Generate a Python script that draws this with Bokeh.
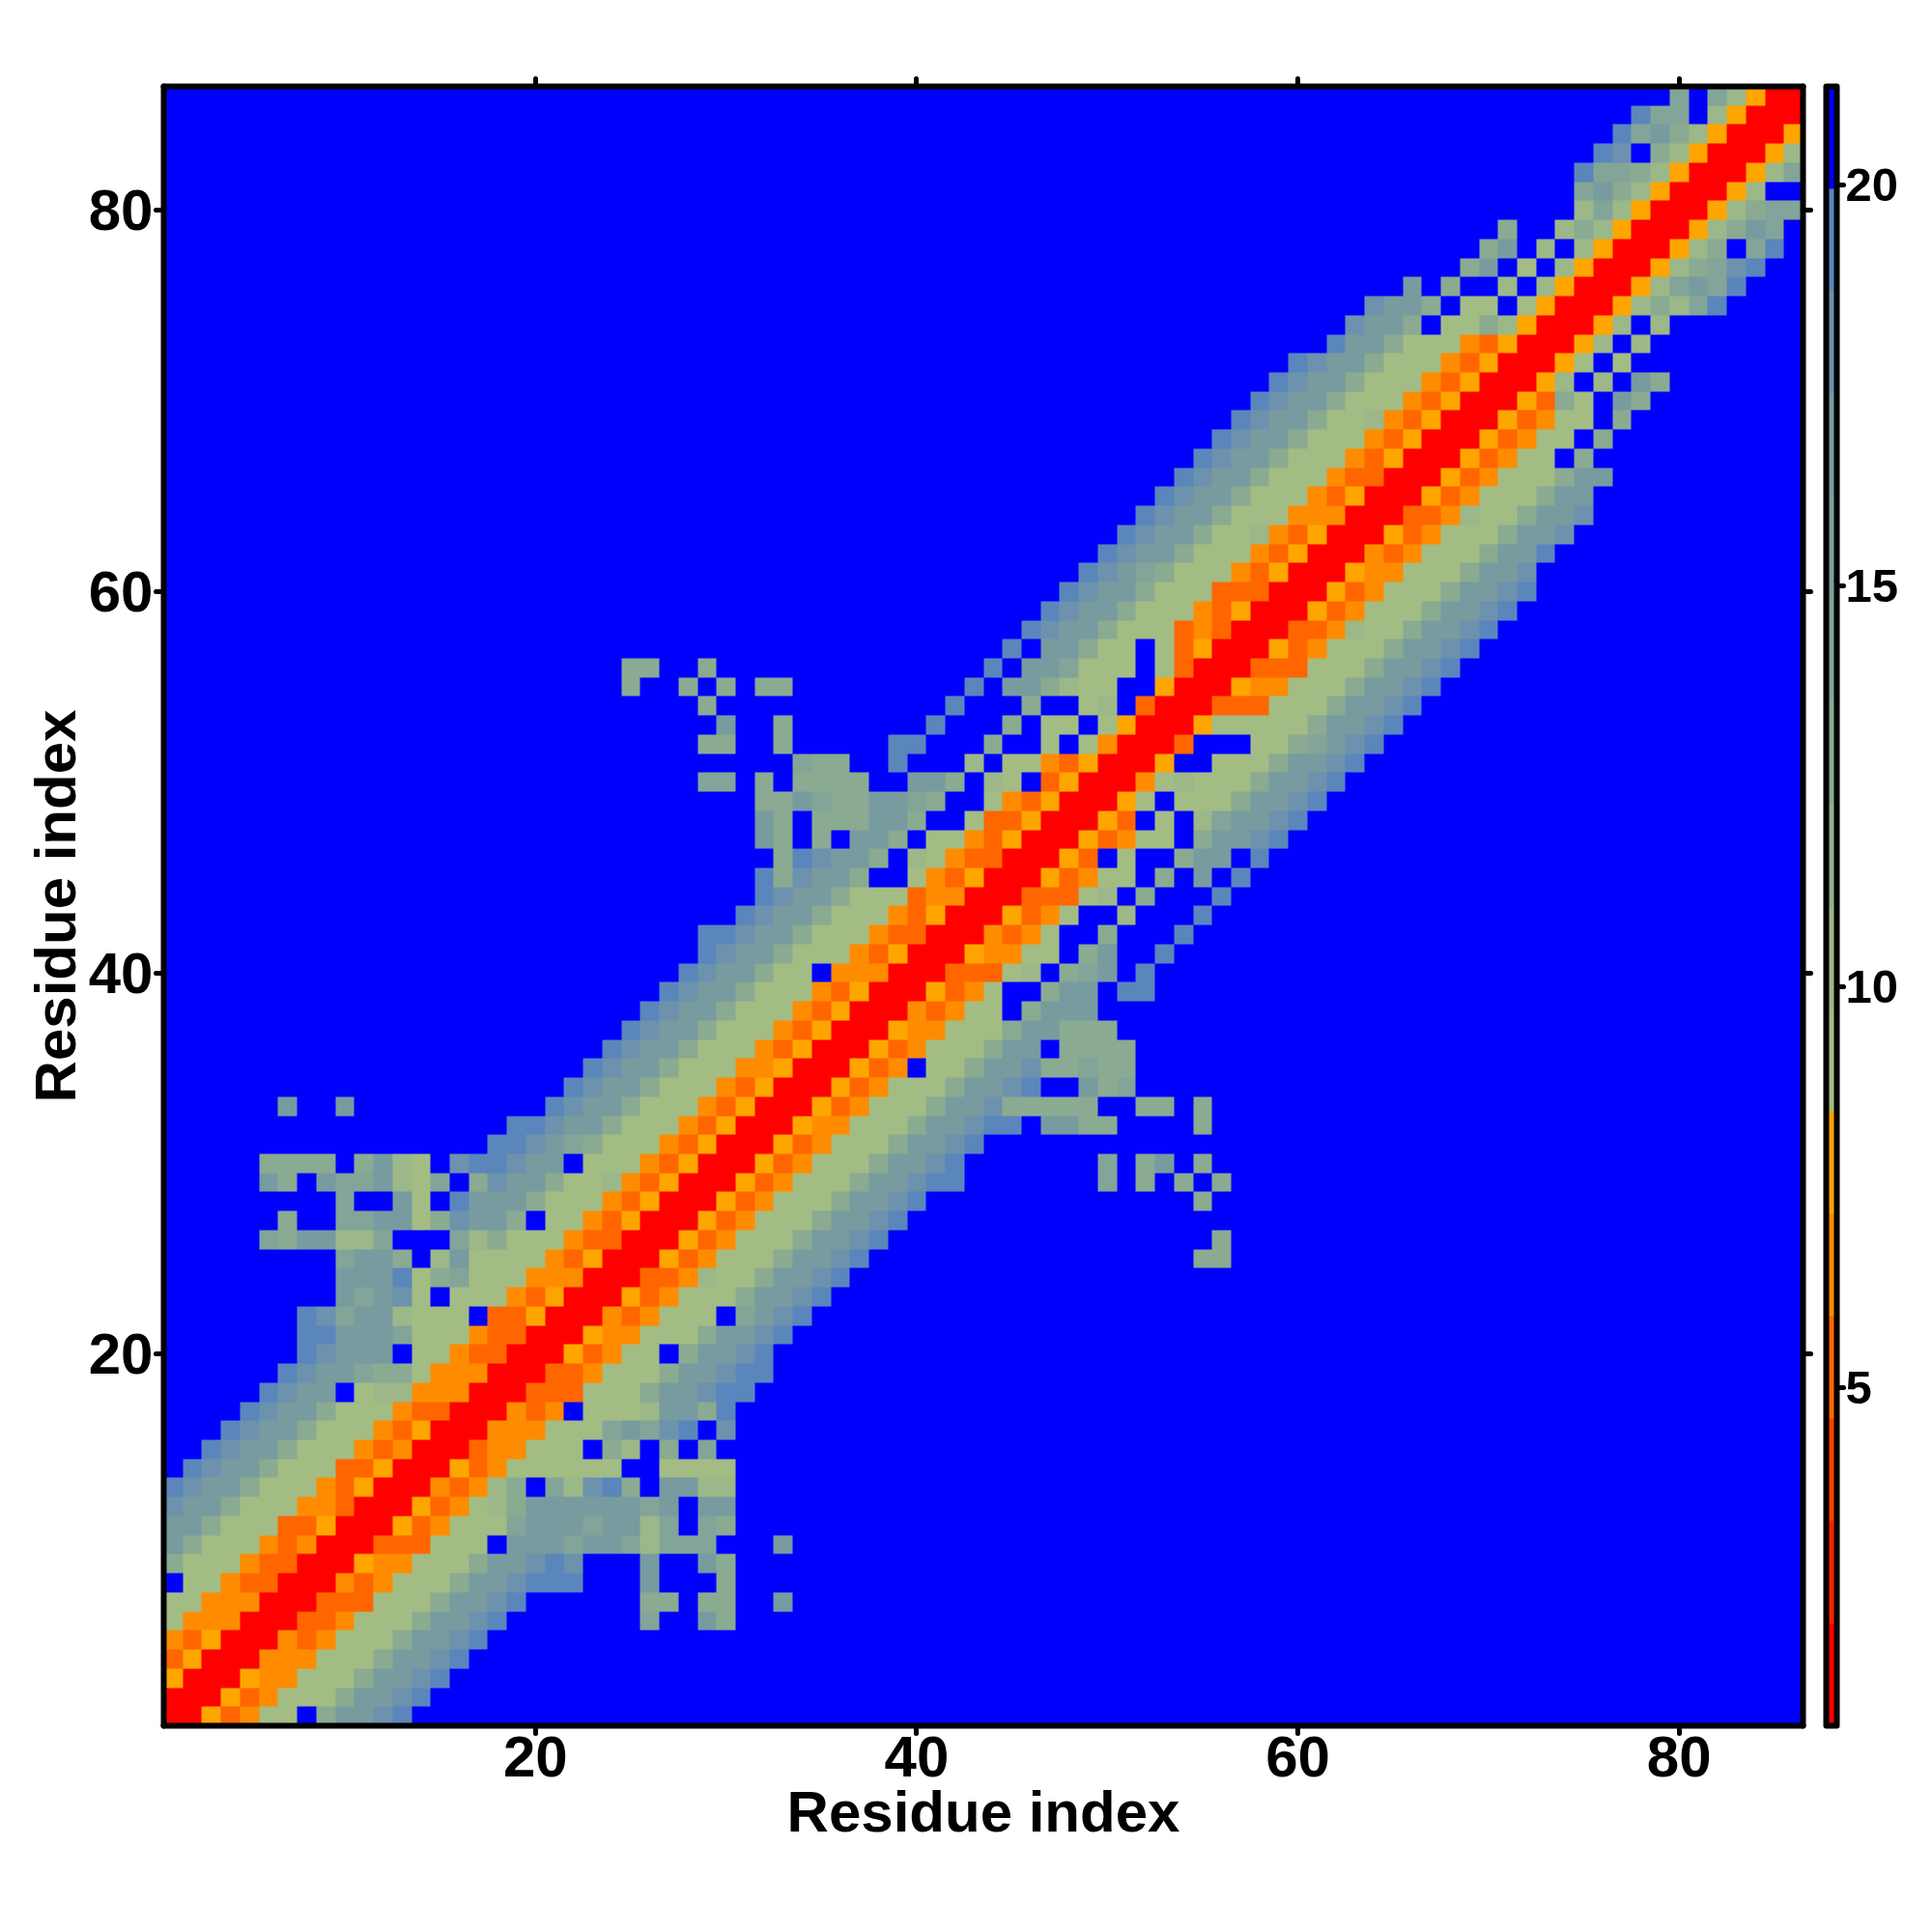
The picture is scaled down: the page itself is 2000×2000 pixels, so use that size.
import numpy as np
from bokeh.embed import file_html
from bokeh.resources import INLINE
from bokeh.plotting import figure
from bokeh.models import LinearColorMapper, ColorBar, FixedTicker, LinearAxis, Range1d

X_TICKS = [20, 40, 60, 80]
BAR_TICKS = [5, 10, 15, 20]
TITLE = "Residue index"
BAR_LOW = 0.79
BAR_HIGH = 21.23
PALETTE = ["#FF0000", "#FF2000", "#FF4000", "#FF6600", "#FF8C00", "#FFA500",
           "#A3BC84", "#9CB788", "#93B18C", "#8AAA91", "#83A498", "#7D9F9C",
           "#789BA0", "#6C92AD", "#5B86BB", "#0000FF"]
# distance value read for each symbol used in ROWS
SYMBOL_VALUE = {"0": 1.4, "3": 5.3, "4": 6.6, "5": 7.8, "6": 9.1, "7": 10.4,
                "8": 13.0, "9": 14.2, "a": 16.7, "b": 18.0, "c": 19.3, "f": 20.6}
# upper triangle: entry k starts on the diagonal at residue k+1
ROWS = [
 "0053466f8aabc", "005346668aabc", "005446668aabc", "004446668aabc", "004346668aabc",
 "003346668aabc"+"fffffff"+"9"+"ff"+"a8",
 "003336668aabc"+"ffffff"+"88"+"f"+"88"+"ff"+"a",
 "004346668aab"+"ccc"+"fff"+"a"+"fff"+"8",
 "005446668aab"+"cb"+"fff"+"a"+"ff"+"a8",
 "00333666f"+"aaa"+"9"+"aa"+"9"+"7"+"999"+"fff"+"a",
 "00534666"+"9"+"aaa"+"9"+"aa"+"7"+"9"+"f"+"9"+"8",
 "00534"+"678"+"aaaaaa"+"9"+"a"+"f"+"aa",
 "00434"+"78f97bc8f"+"aa77",
 "00534"+"666666"+"ff"+"6666",
 "00344"+"666"+"f87f8f9",
 "00444"+"666"+"9a9bcfb",
 "00434f"+"6667"+"aa8c",
 "003336668aabcc", "003346668aabcc", "0053466f8aabc", "005446668aabc", "00434666f9abc",
 "005346668aabc", "003347668aabc",
 "005346668aabc"+"f"*17+"88",
 "005346668aabc"+"f"*17+"8",
 "005346668aabc",
 "005346668aabc"+"f"*14+"8",
 "005346668aabcc"+"f"*7+"9f8f8f8",
 "005346668aabc"+"f"*7+"9f8af8",
 "005346668aabc",
 "005446668aab"+"cc"+"f"+"aa"+"88"+"ffff"+"8",
 "005346668aab"+"88888"+"ff"+"88"+"f"+"8",
 "005346668aabc"+"ff"+"a89",
 "00534f668aab"+"88"+"9"+"88",
 "005346668aa"+"f"+"8888",
 "005446668aa888",
 "0043466f8aaa",
 "005346ff8aafcc",
 "0033367f89afc",
 "0054466f8affc",
 "004346ff8fffc",
 "005346ff7fffc",
 "0033367f8fffc",
 "0053466f8fafc",
 "0053f6ff8aafc",
 "0053466f8aabc",
 "0053f6f79aabc",
 "0056f6668aabc",
 "004676668aabc",
 "005ff6668aabc",
 "003fff6689abc",
 "005666668aabc",
 "003336668aabc",
 "005446668aabc",
 "003336668aabc",
 "005346668aabc",
 "003347668aabc",
 "005346668aabc",
 "005346668aabc",
 "005446668aab",
 "004346668aac",
 "005346668aab",
 "003347668aab",
 "005346668aa",
 "005346668aa",
 "0053466f8",
 "0053466f8",
 "0053466f8",
 "005386fa8",
 "0057f7fa8",
 "0056f6",
 "0057f7",
 "0057f7",
 "0057879c",
 "00579a9c",
 "005789bc",
 "00578f9c",
 "00578a9f",
 "0057899",
 "0057ff",
 "00579",
 "0057",
 "005",
 "00",
 "0",
]

n = len(ROWS)
grid = np.full((n, n), SYMBOL_VALUE["f"])
for k, row in enumerate(ROWS):
    for j, ch in enumerate(row):
        grid[k, k + j] = SYMBOL_VALUE[ch]
        grid[k + j, k] = SYMBOL_VALUE[ch]

FONT = "Liberation Sans"
mapper = LinearColorMapper(palette=PALETTE, low=BAR_LOW, high=BAR_HIGH)

p = figure(frame_width=1697, frame_height=1697, min_border_left=169, min_border_top=89,
           min_border_right=0, min_border_bottom=10,
           x_range=Range1d(0.5, 86.5), y_range=Range1d(0.5, 86.5),
           toolbar_location=None, output_backend="svg", background_fill_color="white")
p.image(image=[grid], x=0.5, y=0.5, dw=n, dh=n, color_mapper=mapper)
p.grid.visible = False
p.outline_line_color = None


def style(ax):
    ax.ticker = FixedTicker(ticks=X_TICKS)
    ax.axis_line_color = "black"
    ax.axis_line_width = 6
    ax.axis_line_cap = "round"
    ax.major_tick_line_color = "black"
    ax.major_tick_line_width = 5
    ax.major_tick_line_cap = "round"
    ax.major_tick_in = 0
    ax.major_tick_out = 8
    ax.minor_tick_line_color = None
    ax.major_label_text_font = FONT
    ax.major_label_text_font_style = "bold"
    ax.major_label_text_font_size = "60px"
    ax.major_label_text_color = "black"
    ax.axis_label_text_font = FONT
    ax.axis_label_text_font_style = "bold"
    ax.axis_label_text_font_size = "60px"
    ax.axis_label_text_color = "black"


for ax in (p.xaxis[0], p.yaxis[0]):
    style(ax)
    ax.axis_label = TITLE
p.xaxis[0].major_label_standoff = 3
p.xaxis[0].axis_label_standoff = 0
p.yaxis[0].major_label_standoff = 3
p.yaxis[0].axis_label_standoff = -2
p.yaxis[0].major_label_orientation = "horizontal"

top = LinearAxis()
right = LinearAxis()
for ax in (top, right):
    style(ax)
    ax.major_label_overrides = {t: "" for t in X_TICKS}
    ax.major_label_standoff = 0
    ax.major_label_text_font_size = "1px"
p.add_layout(top, "above")
p.add_layout(right, "right")

cb = ColorBar(color_mapper=mapper, ticker=FixedTicker(ticks=BAR_TICKS), width=11, height=1697,
              padding=0, margin=0, location=(16, 0),
              bar_line_color="black", bar_line_width=6, bar_line_join="round",
              border_line_color=None, background_fill_color=None,
              major_tick_line_color="black", major_tick_line_width=5, major_tick_line_cap="round",
              major_tick_in=0, major_tick_out=7, minor_tick_line_color=None,
              label_standoff=2,
              major_label_text_font=FONT, major_label_text_font_style="bold",
              major_label_text_font_size="49px", major_label_text_color="black")
p.add_layout(cb, "right")

open("out.html", "w").write(file_html(p, INLINE))
